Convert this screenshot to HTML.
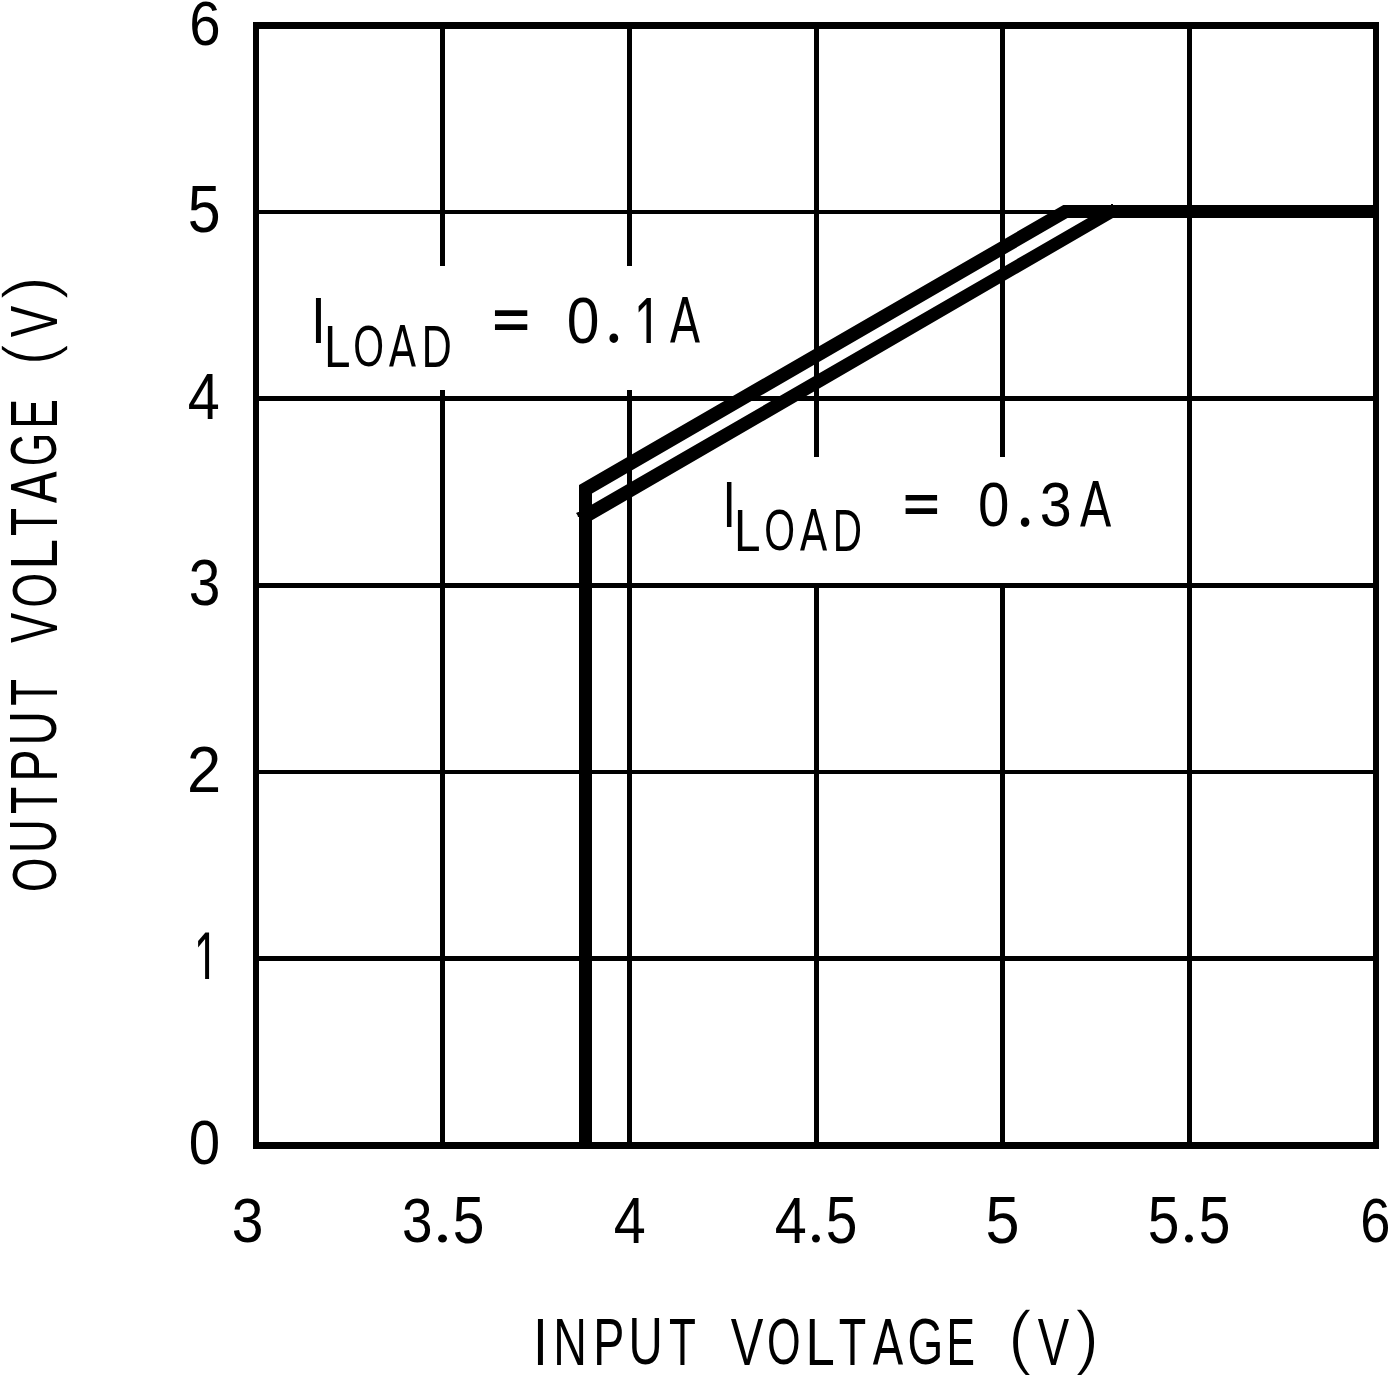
<!DOCTYPE html>
<html><head><meta charset="utf-8"><title>Output Voltage vs Input Voltage</title>
<style>html,body{margin:0;padding:0;background:#fff;overflow:hidden}svg{display:block}</style></head>
<body><svg width="1389" height="1375" viewBox="0 0 1389 1375">
<defs><clipPath id="c1"><path clip-rule="evenodd" d="M0 0H1389V1375H0Z M185 979H225V995H185Z"/></clipPath><clipPath id="c2"><path clip-rule="evenodd" d="M0 0H1389V1375H0Z M625 343H665V355H625Z"/></clipPath></defs>
<rect width="1389" height="1375" fill="#fff"/>
<g fill="#000" shape-rendering="crispEdges"><rect x="253" y="22" width="1126" height="7"/><rect x="253" y="1142" width="1126" height="7"/><rect x="253" y="22" width="6" height="1127"/><rect x="1373" y="22" width="6" height="1127"/><rect x="440" y="29" width="5" height="237"/><rect x="440" y="390" width="5" height="752"/><rect x="627" y="29" width="5" height="237"/><rect x="627" y="390" width="5" height="752"/><rect x="814" y="29" width="5" height="428"/><rect x="814" y="583" width="5" height="559"/><rect x="1000" y="29" width="5" height="428"/><rect x="1000" y="583" width="5" height="559"/><rect x="1187" y="29" width="5" height="1113"/><rect x="259" y="210" width="1114" height="4"/><rect x="259" y="396" width="1114" height="5"/><rect x="259" y="583" width="1114" height="5"/><rect x="259" y="770" width="1114" height="4"/><rect x="259" y="956" width="1114" height="5"/><rect x="1111" y="204" width="2" height="1"/></g>
<g fill="#000"><path d="M579 1145V485L1063.3 205H1376V218H1067.5L592 493.5V1145ZM579 1145V512L1110.5 205H1376V218H1113L592 520.3V1145ZM579 511.8L576 513L577.5 515.2L578 517H579Z"/></g>
<g fill="#000" font-family="'Liberation Sans', Arial, sans-serif">
<text><tspan x="189.14" y="45.38" font-size="63.56" textLength="31.34" lengthAdjust="spacingAndGlyphs">6</tspan></text>
<text><tspan x="187.64" y="232.36" font-size="65.93" textLength="32.84" lengthAdjust="spacingAndGlyphs">5</tspan></text>
<text><tspan x="187.68" y="419" font-size="65.41" textLength="32.01" lengthAdjust="spacingAndGlyphs">4</tspan></text>
<text><tspan x="188.83" y="605.37" font-size="64.97" textLength="31.67" lengthAdjust="spacingAndGlyphs">3</tspan></text>
<text><tspan x="186.91" y="792" font-size="64.45" textLength="34.18" lengthAdjust="spacingAndGlyphs">2</tspan></text>
<text clip-path="url(#c1)"><tspan x="193.66" y="985.28" font-size="75.98" textLength="25.11" lengthAdjust="spacingAndGlyphs">1</tspan></text>
<text><tspan x="188.79" y="1164.38" font-size="63.56" textLength="31.41" lengthAdjust="spacingAndGlyphs">0</tspan></text>
<text><tspan x="231.83" y="1242.38" font-size="63.56" textLength="31.67" lengthAdjust="spacingAndGlyphs">3</tspan></text>
<text><tspan x="401.91" y="1242.38" font-size="63.56" textLength="30.5" lengthAdjust="spacingAndGlyphs">3</tspan><tspan x="432.98" y="1242.04" font-size="67.7" font-family="'Liberation Serif', serif" textLength="19.04" lengthAdjust="spacingAndGlyphs">.</tspan><tspan x="452.72" y="1243.36" font-size="65.93" textLength="31.67" lengthAdjust="spacingAndGlyphs">5</tspan></text>
<text><tspan x="613.68" y="1243" font-size="65.41" textLength="32.01" lengthAdjust="spacingAndGlyphs">4</tspan></text>
<text><tspan x="774.68" y="1243" font-size="65.41" textLength="32.01" lengthAdjust="spacingAndGlyphs">4</tspan><tspan x="807.54" y="1242.04" font-size="67.7" font-family="'Liberation Serif', serif" textLength="16.93" lengthAdjust="spacingAndGlyphs">.</tspan><tspan x="825.72" y="1243.36" font-size="65.93" textLength="31.67" lengthAdjust="spacingAndGlyphs">5</tspan></text>
<text><tspan x="985.55" y="1243.36" font-size="65.93" textLength="34.02" lengthAdjust="spacingAndGlyphs">5</tspan></text>
<text><tspan x="1147.72" y="1243.36" font-size="65.93" textLength="31.67" lengthAdjust="spacingAndGlyphs">5</tspan><tspan x="1180.54" y="1242.04" font-size="67.7" font-family="'Liberation Serif', serif" textLength="16.93" lengthAdjust="spacingAndGlyphs">.</tspan><tspan x="1198.72" y="1243.36" font-size="65.93" textLength="31.67" lengthAdjust="spacingAndGlyphs">5</tspan></text>
<text><tspan x="1360.25" y="1242.38" font-size="63.56" textLength="30.13" lengthAdjust="spacingAndGlyphs">6</tspan></text>
<text clip-path="url(#c2)"><tspan x="311.05" y="343" font-size="65.41" textLength="14.9" lengthAdjust="spacingAndGlyphs">I</tspan><tspan x="324.09" y="367" font-size="59.59" textLength="26.49" lengthAdjust="spacingAndGlyphs">L</tspan><tspan x="353.13" y="366.43" font-size="57.91" textLength="30.77" lengthAdjust="spacingAndGlyphs">O</tspan><tspan x="388.69" y="367" font-size="56.24" font-family="'DejaVu Sans', sans-serif" textLength="27.45" lengthAdjust="spacingAndGlyphs">A</tspan><tspan x="421.79" y="367" font-size="59.59" textLength="29.99" lengthAdjust="spacingAndGlyphs">D</tspan> <tspan x="489.43" y="341.91" font-size="68.74" font-family="'DejaVu Sans', sans-serif" textLength="43.23" lengthAdjust="spacingAndGlyphs">=</tspan> <tspan x="566.8" y="342.68" font-size="63.98" textLength="32.69" lengthAdjust="spacingAndGlyphs">0</tspan><tspan x="604.59" y="342.17" font-size="79.55" font-family="'Liberation Serif', serif" textLength="18.62" lengthAdjust="spacingAndGlyphs">.</tspan><tspan x="633.74" y="349.15" font-size="74.35" textLength="28.08" lengthAdjust="spacingAndGlyphs">1</tspan><tspan x="669.75" y="343" font-size="61.73" font-family="'DejaVu Sans', sans-serif" textLength="30.52" lengthAdjust="spacingAndGlyphs">A</tspan></text>
<text><tspan x="722.55" y="527" font-size="65.41" textLength="13.41" lengthAdjust="spacingAndGlyphs">I</tspan><tspan x="734.09" y="551" font-size="59.59" textLength="26.49" lengthAdjust="spacingAndGlyphs">L</tspan><tspan x="764.13" y="550.43" font-size="57.91" textLength="30.77" lengthAdjust="spacingAndGlyphs">O</tspan><tspan x="799.68" y="551" font-size="56.24" font-family="'DejaVu Sans', sans-serif" textLength="27.65" lengthAdjust="spacingAndGlyphs">A</tspan><tspan x="832.68" y="551" font-size="59.59" textLength="29.26" lengthAdjust="spacingAndGlyphs">D</tspan> <tspan x="900.37" y="525.95" font-size="68.38" font-family="'DejaVu Sans', sans-serif" textLength="42.16" lengthAdjust="spacingAndGlyphs">=</tspan> <tspan x="977.99" y="526.08" font-size="63.13" textLength="31.41" lengthAdjust="spacingAndGlyphs">0</tspan><tspan x="1016" y="525.56" font-size="80.4" font-family="'Liberation Serif', serif" textLength="18.2" lengthAdjust="spacingAndGlyphs">.</tspan><tspan x="1039.82" y="526.38" font-size="63.56" textLength="31.91" lengthAdjust="spacingAndGlyphs">3</tspan><tspan x="1079.74" y="527" font-size="61.73" font-family="'DejaVu Sans', sans-serif" textLength="31.75" lengthAdjust="spacingAndGlyphs">A</tspan></text>
<text><tspan x="533.05" y="1365" font-size="66.86" textLength="14.9" lengthAdjust="spacingAndGlyphs">I</tspan><tspan x="553.18" y="1365" font-size="66.86" textLength="33.61" lengthAdjust="spacingAndGlyphs">N</tspan><tspan x="593.18" y="1365" font-size="66.86" textLength="31.08" lengthAdjust="spacingAndGlyphs">P</tspan><tspan x="628.55" y="1364.36" font-size="65.93" textLength="34.21" lengthAdjust="spacingAndGlyphs">U</tspan><tspan x="669.11" y="1365" font-size="66.86" textLength="26.9" lengthAdjust="spacingAndGlyphs">T</tspan> <tspan x="730.79" y="1365" font-size="66.86" textLength="32.63" lengthAdjust="spacingAndGlyphs">V</tspan><tspan x="766.95" y="1364.37" font-size="64.97" textLength="33.61" lengthAdjust="spacingAndGlyphs">O</tspan><tspan x="805.58" y="1365" font-size="66.86" textLength="29.26" lengthAdjust="spacingAndGlyphs">L</tspan><tspan x="838.79" y="1365" font-size="66.86" textLength="27.44" lengthAdjust="spacingAndGlyphs">T</tspan><tspan x="872.55" y="1365" font-size="63.1" font-family="'DejaVu Sans', sans-serif" textLength="30.93" lengthAdjust="spacingAndGlyphs">A</tspan><tspan x="907.59" y="1364.37" font-size="64.97" textLength="35.74" lengthAdjust="spacingAndGlyphs">G</tspan><tspan x="946.5" y="1365" font-size="66.86" textLength="28.43" lengthAdjust="spacingAndGlyphs">E</tspan> <tspan x="1007.74" y="1360.78" font-size="72.56" stroke="#fff" stroke-width="1.6" textLength="24.49" lengthAdjust="spacingAndGlyphs">(</tspan><tspan x="1037.79" y="1365" font-size="66.86" textLength="31.41" lengthAdjust="spacingAndGlyphs">V</tspan><tspan x="1074.76" y="1360.78" font-size="72.56" stroke="#fff" stroke-width="1.6" textLength="24.74" lengthAdjust="spacingAndGlyphs">)</tspan></text>
<text transform="rotate(-90)"><tspan x="-892.1" y="56.38" font-size="63.56" textLength="34.41" lengthAdjust="spacingAndGlyphs">O</tspan><tspan x="-853.35" y="56.36" font-size="65.93" textLength="34.21" lengthAdjust="spacingAndGlyphs">U</tspan><tspan x="-813.9" y="57" font-size="66.86" textLength="27.22" lengthAdjust="spacingAndGlyphs">T</tspan><tspan x="-781.78" y="57" font-size="66.86" textLength="32.33" lengthAdjust="spacingAndGlyphs">P</tspan><tspan x="-745.57" y="56.36" font-size="65.93" textLength="34.34" lengthAdjust="spacingAndGlyphs">U</tspan><tspan x="-705.68" y="57" font-size="66.86" textLength="26.68" lengthAdjust="spacingAndGlyphs">T</tspan> <tspan x="-643" y="57" font-size="66.86" textLength="30.2" lengthAdjust="spacingAndGlyphs">V</tspan><tspan x="-607.72" y="56.38" font-size="63.56" textLength="34.87" lengthAdjust="spacingAndGlyphs">O</tspan><tspan x="-569.86" y="57" font-size="66.86" textLength="30.9" lengthAdjust="spacingAndGlyphs">L</tspan><tspan x="-536.03" y="57" font-size="66.86" textLength="28.09" lengthAdjust="spacingAndGlyphs">T</tspan><tspan x="-503.37" y="57" font-size="63.1" font-family="'DejaVu Sans', sans-serif" textLength="32.06" lengthAdjust="spacingAndGlyphs">A</tspan><tspan x="-466.16" y="56.37" font-size="64.97" textLength="33.36" lengthAdjust="spacingAndGlyphs">G</tspan><tspan x="-428.66" y="57" font-size="66.86" textLength="29.78" lengthAdjust="spacingAndGlyphs">E</tspan> <tspan x="-365.55" y="52.69" font-size="72.99" stroke="#fff" stroke-width="1.6" textLength="21.73" lengthAdjust="spacingAndGlyphs">(</tspan><tspan x="-337.21" y="57" font-size="66.86" textLength="31.41" lengthAdjust="spacingAndGlyphs">V</tspan><tspan x="-300.03" y="52.69" font-size="72.99" stroke="#fff" stroke-width="1.6" textLength="24.37" lengthAdjust="spacingAndGlyphs">)</tspan></text>
</g>
</svg></body></html>
